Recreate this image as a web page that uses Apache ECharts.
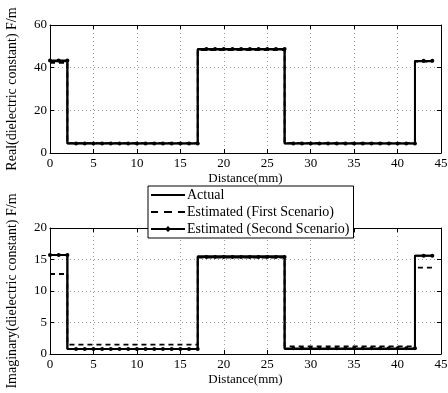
<!DOCTYPE html>
<html>
<head>
<meta charset="utf-8">
<script src="https://cdn.jsdelivr.net/npm/echarts@6/dist/echarts.min.js"></script>
<style>
  html, body { margin: 0; padding: 0; background: #fff; }
  #chart { width: 448px; height: 393px; }
</style>
</head>
<body>
<div id="chart"></div>
<script>
// distance samples (mm)
const distance = [0,1,2,3,4,5,6,7,8,9,10,11,12,13,14,15,16,17,18,19,20,21,22,23,24,25,26,27,28,29,30,31,32,33,34,35,36,37,38,39,40,41,42,43,44]

// real part
const realActual = [43,43,43, 4.5,4.5,4.5,4.5,4.5,4.5,4.5,4.5,4.5,4.5,4.5,4.5,4.5,4.5,4.5, 48.5,48.5,48.5,48.5,48.5,48.5,48.5,48.5,48.5,48.5, 4.5,4.5,4.5,4.5,4.5,4.5,4.5,4.5,4.5,4.5,4.5,4.5,4.5,4.5,4.5, 43,43]
const realFirst = [42.2,42.2,42.2, 4.6,4.6,4.6,4.6,4.6,4.6,4.6,4.6,4.6,4.6,4.6,4.6,4.6,4.6,4.6, 48.2,48.2,48.2,48.2,48.2,48.2,48.2,48.2,48.2,48.2, 4.6,4.6,4.6,4.6,4.6,4.6,4.6,4.6,4.6,4.6,4.6,4.6,4.6,4.6,4.6, 42.8,42.8]
const realSecond = [43.4,43.4,43.4, 4.5,4.5,4.5,4.5,4.5,4.5,4.5,4.5,4.5,4.5,4.5,4.5,4.5,4.5,4.5, 48.8,48.8,48.8,48.8,48.8,48.8,48.8,48.8,48.8,48.8, 4.5,4.5,4.5,4.5,4.5,4.5,4.5,4.5,4.5,4.5,4.5,4.5,4.5,4.5,4.5, 43.2,43.2]

// imaginary part
const imagActual = [15.7,15.7,15.7, 0.8,0.8,0.8,0.8,0.8,0.8,0.8,0.8,0.8,0.8,0.8,0.8,0.8,0.8,0.8, 15.5,15.5,15.5,15.5,15.5,15.5,15.5,15.5,15.5,15.5, 0.8,0.8,0.8,0.8,0.8,0.8,0.8,0.8,0.8,0.8,0.8,0.8,0.8,0.8,0.8, 15.6,15.6]
const imagFirst = [12.7,12.7,12.7, 1.5,1.5,1.5,1.5,1.5,1.5,1.5,1.5,1.5,1.5,1.5,1.5,1.5,1.5,1.5, 15.3,15.3,15.3,15.3,15.3,15.3,15.3,15.3,15.3,15.3, 1.2,1.2,1.2,1.2,1.2,1.2,1.2,1.2,1.2,1.2,1.2,1.2,1.2,1.2,1.2, 13.7,13.7]
const imagSecond = [15.7,15.7,15.7, 0.8,0.8,0.8,0.8,0.8,0.8,0.8,0.8,0.8,0.8,0.8,0.8,0.8,0.8,0.8, 15.4,15.4,15.4,15.4,15.4,15.4,15.4,15.4,15.4,15.4, 0.9,0.9,0.9,0.9,0.9,0.9,0.9,0.9,0.9,0.9,0.9,0.9,0.9,0.9,0.9, 15.6,15.6]

const seriesNames = ['Actual', 'Estimated (First Scenario)', 'Estimated (Second Scenario)']
const xTicks = { min: 0, max: 45, interval: 5 }

const font = 'Liberation Serif'
const pair = (ys) => distance.map((d, i) => [d, ys[i]])

const gridLine = { show: true, lineStyle: { color: '#999', type: [1, 3], width: 1 } }
const axisLine = { show: true, onZero: false, lineStyle: { color: '#000', width: 1 } }
const tick = { show: true, inside: true, length: 4, lineStyle: { color: '#000' } }
const labelStyle = { fontFamily: font, fontSize: 13, color: '#000' }

// legend icons (34x14 box, corner points keep the box size)
const box = 'M0,0L0,0Z M34,14L34,14Z '
const legendIcons = [
    'path://' + box + 'M0,6h34v2h-34z',
    'path://' + box + 'M0,6h7v2h-7z M13,6h8v2h-8z M27,6h7v2h-7z',
    'path://' + box + 'M0,6h34v2h-34z M17,4l3,3l-3,3l-3,-3z',
]

function xAxes(gridIndex) {
    return [
        {
            type: 'value', gridIndex, position: 'bottom', ...xTicks,
            name: 'Distance(mm)', nameLocation: 'middle', nameGap: 19,
            nameTextStyle: labelStyle,
            axisLine, axisTick: tick, splitLine: gridLine,
            axisLabel: { ...labelStyle, margin: 4 },
        },
        {
            type: 'value', gridIndex, position: 'top', ...xTicks,
            axisLine, axisTick: tick, splitLine: { show: false }, axisLabel: { show: false },
        },
    ]
}

function yAxes(gridIndex, max, interval, name) {
    return [
        {
            type: 'value', gridIndex, position: 'left', min: 0, max, interval,
            name, nameLocation: 'middle', nameGap: 31, nameRotate: 90,
            nameTextStyle: { ...labelStyle, fontSize: 14 },
            axisLine, axisTick: tick, splitLine: gridLine,
            axisLabel: { ...labelStyle, margin: 3 },
        },
        {
            type: 'value', gridIndex, position: 'right', min: 0, max, interval,
            axisLine, axisTick: tick, splitLine: { show: false }, axisLabel: { show: false },
        },
    ]
}

function lines(xIdx, yIdx, actual, first, second) {
    return [
        {
            name: seriesNames[1], type: 'line', step: 'start', xAxisIndex: xIdx, yAxisIndex: yIdx,
            data: pair(first), showSymbol: false, symbol: 'none',
            lineStyle: { color: '#000', width: 1.8, type: [5, 4] }, itemStyle: { color: '#000' },
        },
        {
            name: seriesNames[2], type: 'line', step: 'start', xAxisIndex: xIdx, yAxisIndex: yIdx,
            data: pair(second), symbol: 'circle', symbolSize: 4, showSymbol: true,
            lineStyle: { color: '#000', width: 1.8 }, itemStyle: { color: '#000' },
        },
        {
            name: seriesNames[0], type: 'line', step: 'start', xAxisIndex: xIdx, yAxisIndex: yIdx,
            data: pair(actual), showSymbol: false, symbol: 'none',
            lineStyle: { color: '#000', width: 2 }, itemStyle: { color: '#000' },
        },
    ]
}

const chart = echarts.init(document.getElementById('chart'), null, { renderer: 'canvas' })

chart.setOption({
    backgroundColor: '#fff',
    animation: false,
    grid: [
        { left: 50, right: 7, top: 25, height: 128, outerBoundsMode: 'none' },
        { left: 50, right: 7, top: 228, height: 126, outerBoundsMode: 'none' },
    ],
    xAxis: [...xAxes(0), ...xAxes(1)],
    yAxis: [
        ...yAxes(0, 60, 20, 'Real(dielectric constant) F/m'),
        ...yAxes(1, 20, 5, 'Imaginary(dielectric constant) F/m'),
    ],
    legend: {
        data: seriesNames.map((name, i) => ({ name, icon: legendIcons[i] })),
        orient: 'vertical',
        left: 148, top: 186,
        backgroundColor: '#fff',
        borderColor: '#000', borderWidth: 1, borderRadius: 0,
        padding: [2, 4, 2, 3],
        itemGap: 3, itemWidth: 34, itemHeight: 14,
        textStyle: { ...labelStyle, fontSize: 14, padding: [0, 0, 0, -3] },
        selectedMode: false,
    },
    series: [...lines(0, 0, realActual, realFirst, realSecond), ...lines(2, 2, imagActual, imagFirst, imagSecond)],
})
</script>
</body>
</html>
